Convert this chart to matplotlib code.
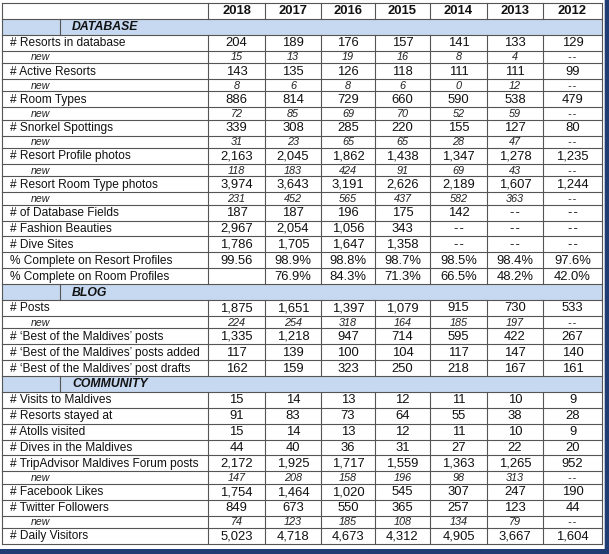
import matplotlib.pyplot as plt
import numpy as np

plt.rcParams['font.family'] = ['Liberation Sans', 'DejaVu Sans']

years = ["2018", "2017", "2016", "2015", "2014", "2013", "2012"]
sections = ["DATABASE", "BLOG", "COMMUNITY"]

labels = [
    "DATABASE",
    "# Resorts in database", "new",
    "# Active Resorts", "new",
    "# Room Types", "new",
    "# Snorkel Spottings", "new",
    "# Resort Profile photos", "new",
    "# Resort Room Type photos", "new",
    "# of Database Fields",
    "# Fashion Beauties",
    "# Dive Sites",
    "% Complete on Resort Profiles",
    "% Complete on Room Profiles",
    "BLOG",
    "# Posts", "new",
    "# \u2018Best of the Maldives\u2019 posts",
    "# \u2018Best of the Maldives\u2019 posts added",
    "# \u2018Best of the Maldives\u2019 post drafts",
    "COMMUNITY",
    "# Visits to Maldives",
    "# Resorts stayed at",
    "# Atolls visited",
    "# Dives in the Maldives",
    "# TripAdvisor Maldives Forum posts", "new",
    "# Facebook Likes",
    "# Twitter Followers", "new",
    "# Daily Visitors",
]

v2018 = ["", "204", "15", "143", "8", "886", "72", "339", "31", "2,163", "118", "3,974", "231",
         "187", "2,967", "1,786", "99.56", "", "", "1,875", "224", "1,335", "117", "162", "",
         "15", "91", "15", "44", "2,172", "147", "1,754", "849", "74", "5,023"]
v2017 = ["", "189", "13", "135", "6", "814", "85", "308", "23", "2,045", "183", "3,643", "452",
         "187", "2,054", "1,705", "98.9%", "76.9%", "", "1,651", "254", "1,218", "139", "159", "",
         "14", "83", "14", "40", "1,925", "208", "1,464", "673", "123", "4,718"]
v2016 = ["", "176", "19", "126", "8", "729", "69", "285", "65", "1,862", "424", "3,191", "565",
         "196", "1,056", "1,647", "98.8%", "84.3%", "", "1,397", "318", "947", "100", "323", "",
         "13", "73", "13", "36", "1,717", "158", "1,020", "550", "185", "4,673"]
v2015 = ["", "157", "16", "118", "6", "660", "70", "220", "65", "1,438", "91", "2,626", "437",
         "175", "343", "1,358", "98.7%", "71.3%", "", "1,079", "164", "714", "104", "250", "",
         "12", "64", "12", "31", "1,559", "196", "545", "365", "108", "4,312"]
v2014 = ["", "141", "8", "111", "0", "590", "52", "155", "28", "1,347", "69", "2,189", "582",
         "142", "--", "--", "98.5%", "66.5%", "", "915", "185", "595", "117", "218", "",
         "11", "55", "11", "27", "1,363", "98", "307", "257", "134", "4,905"]
v2013 = ["", "133", "4", "111", "12", "538", "59", "127", "47", "1,278", "43", "1,607", "363",
         "--", "--", "--", "98.4%", "48.2%", "", "730", "197", "422", "147", "167", "",
         "10", "38", "10", "22", "1,265", "313", "247", "123", "79", "3,667"]
v2012 = ["", "129", "--", "99", "--", "479", "--", "80", "--", "1,235", "--", "1,244", "--",
         "--", "--", "--", "97.6%", "42.0%", "", "533", "--", "267", "140", "161", "",
         "9", "28", "9", "20", "952", "--", "190", "44", "--", "1,604"]

columns = [v2018, v2017, v2016, v2015, v2014, v2013, v2012]

# layout in pixels
W, H = 609, 554
x_edges = [2, 208, 265, 321, 375, 430, 487, 543, 602]
top = 3
main_h, new_h = 15.9, 12.4
line_c = "#555555"
fill_c = "#c6d9f0"
txt_c = "#111111"

fig = plt.figure(figsize=(W / 100, H / 100), dpi=100)
ax = fig.add_axes([0, 0, 1, 1])
ax.set_xlim(0, W)
ax.set_ylim(H, 0)
ax.axis("off")

# window frame on the right and bottom
ax.add_patch(plt.Rectangle((605, 0), 4, H, color="#1f3d72", lw=0))
ax.add_patch(plt.Rectangle((0, 549), W, 5, color="#1f3d72", lw=0))
ax.add_patch(plt.Rectangle((603.5, 0), 1.5, 549, color="#b8c4d6", lw=0))


def cell_text(s):
    # show the dashes apart, like the screenshot does
    return s.replace("--", "-\u200a-")


# header row with years
y = top
y1 = y + main_h
for i, yr in enumerate(years):
    xc = (x_edges[i + 1] + x_edges[i + 2]) / 2
    ax.text(xc, (y + y1) / 2 + 0.5, yr, ha="center", va="center",
            fontsize=9.4, fontweight="bold", color=txt_c)
for xe in x_edges:
    ax.plot([xe, xe], [y, y1], color=line_c, lw=0.8)
ax.plot([x_edges[0], x_edges[-1]], [y, y], color=line_c, lw=0.8)
y = y1

for r, lab in enumerate(labels):
    is_new = lab == "new"
    h = new_h if is_new else main_h
    y1 = y + h
    yc = (y + y1) / 2 + 0.5
    ax.plot([x_edges[0], x_edges[-1]], [y, y], color=line_c, lw=0.8)
    if lab in sections:
        ax.add_patch(plt.Rectangle((x_edges[0], y), x_edges[-1] - x_edges[0], h,
                                   color=fill_c, lw=0))
        for xe in [x_edges[0], 60, x_edges[-1]]:
            ax.plot([xe, xe], [y, y1], color=line_c, lw=0.8)
        ax.text(72, yc, lab, ha="left", va="center", fontsize=8.8,
                fontweight="bold", fontstyle="italic", color=txt_c)
    else:
        for xe in x_edges:
            ax.plot([xe, xe], [y, y1], color=line_c, lw=0.8)
        if is_new:
            ax.text(41, yc, lab, ha="center", va="center", fontsize=7.6,
                    fontstyle="italic", color="#222222")
        else:
            ax.text(10, yc, lab, ha="left", va="center", fontsize=8.6, color=txt_c)
        for i, col in enumerate(columns):
            xc = (x_edges[i + 1] + x_edges[i + 2]) / 2
            if is_new:
                ax.text(xc, yc, cell_text(col[r]), ha="center", va="center",
                        fontsize=7.8, fontstyle="italic", color="#222222")
            else:
                ax.text(xc, yc, cell_text(col[r]), ha="center", va="center",
                        fontsize=9.4, color=txt_c)
    y = y1
ax.plot([x_edges[0], x_edges[-1]], [y, y], color=line_c, lw=0.8)

fig.savefig("out.png", dpi=100)
